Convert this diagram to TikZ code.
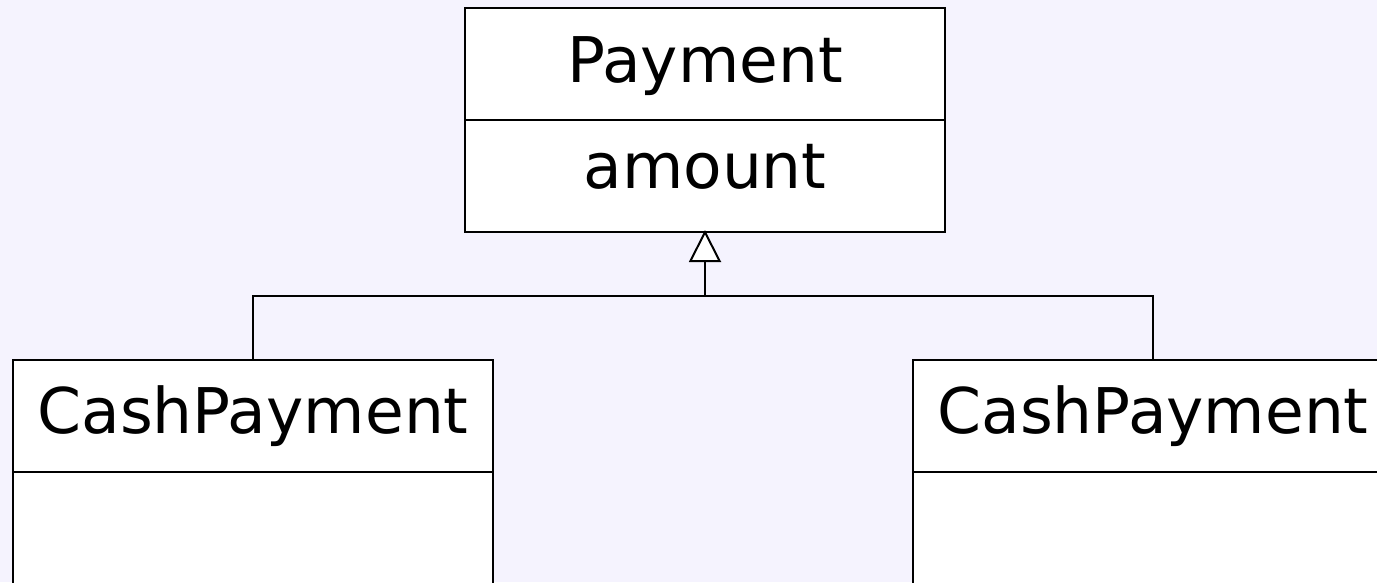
\documentclass[tikz,border=0pt]{standalone}
\usepackage{fontspec}
\setmainfont{DejaVu Sans}
\usetikzlibrary{arrows.meta}
\definecolor{canvas}{RGB}{245,243,254}
\tikzset{
  compartment/.style={draw=black, fill=white, line width=2pt,
    minimum width=480pt, minimum height=112pt, inner sep=0pt},
  label/.style={anchor=base, inner sep=0pt,
    font=\fontsize{63}{70}\selectfont},
  link/.style={draw=black, line width=2pt},
  inherits/.style={link, -{Triangle[length=32pt, width=32pt, fill=white]}}
}
\begin{document}
\begin{tikzpicture}[x=1pt, y=1pt]
  \useasboundingbox (0,0) rectangle (1377,-582);
  \fill[canvas] (0,0) rectangle (1377,-582);
  \clip (0,0) rectangle (1377,-582);

  % superclass
  \node[compartment] (pname) at (705,-64) {};
  \node[compartment] (pattr) at (705,-176) {};
  \node[label] (ptitle) at (705,-82) {Payment};
  \node[label] (pfield) at (705,-188) {amount};

  % subclasses
  \node[compartment] (lname) at (253,-416) {};
  \node[compartment] (lattr) at (253,-528) {};
  \node[label] (ltitle) at (253,-433) {CashPayment};

  \node[compartment] (rname) at (1153,-416) {};
  \node[compartment] (rattr) at (1153,-528) {};
  \node[label] (rtitle) at (1153,-433) {CashPayment};

  % generalization
  \coordinate (joint) at (705,-296);
  \draw[link] (lname.north) |- (joint) -| (rname.north);
  \draw[inherits] (joint) -- ([yshift=3pt]pattr.south);
\end{tikzpicture}
\end{document}
